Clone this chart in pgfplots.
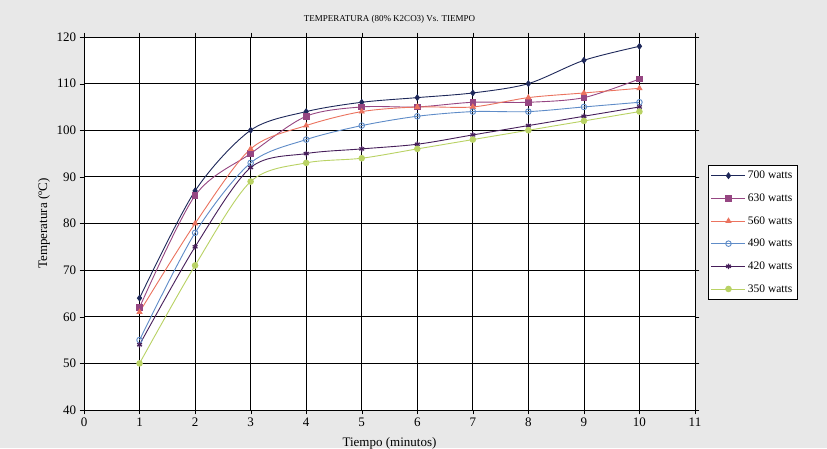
\documentclass[border=0pt]{standalone}
\usepackage{pgfplots}
\pgfplotsset{compat=1.18}
\usepackage{fontspec}
\setmainfont{Liberation Serif}

\definecolor{bgc}{RGB}{232,232,232}
\definecolor{c700}{RGB}{30,40,90}
\definecolor{c630}{RGB}{150,70,130}
\definecolor{c560}{RGB}{235,115,95}
\definecolor{c490}{RGB}{95,140,200}
\definecolor{c420}{RGB}{70,30,90}
\definecolor{c350}{RGB}{185,210,100}

\begin{document}
\begin{tikzpicture}[x=1pt,y=1pt]
\fill[bgc] (0,0) rectangle (827,448);
\path[use as bounding box] (0,0) rectangle (827,448);
\begin{axis}[
    at={(84pt,38pt)}, anchor=south west,
    scale only axis, width=611pt, height=373pt,
    xmin=0, xmax=11, ymin=40, ymax=120,
    xtick={0,...,11}, ytick={40,50,...,120},
    grid=major, major grid style={black, line width=0.8pt},
    axis line style={black, line width=0.8pt},
    axis background/.style={fill=white},
    tick style={black}, tick align=outside,
    /pgf/number format/assume math mode=true,
    ticklabel style={font=\fontsize{13}{14}\selectfont},
    title={\fontsize{9}{10}\selectfont TEMPERATURA (80\% K2CO3) Vs. TIEMPO},
    title style={yshift=4pt},
    xlabel={Tiempo (minutos)}, ylabel={Temperatura (ºC)},
    label style={font=\fontsize{13}{14}\selectfont},
    xlabel style={yshift=-4pt},
    legend style={at={(1.021,0.657)}, anchor=north west, draw=black,
      font=\fontsize{11.5}{12}\selectfont, row sep=9.5pt, fill=white,
      inner xsep=3pt, inner ysep=4pt},
    legend cell align=left,
    legend image code/.code={\draw[mark repeat=2,mark phase=2] plot coordinates {(0pt,0pt)(17pt,0pt)(34pt,0pt)};},
    every axis plot/.append style={smooth, line width=0.9pt, mark size=2.8pt},
]
\addplot[c700, mark=diamond*] coordinates {(1,64)(2,87)(3,100)(4,104)(5,106)(6,107)(7,108)(8,110)(9,115)(10,118)};
\addplot[c630, mark=square*] coordinates {(1,62)(2,86)(3,95)(4,103)(5,105)(6,105)(7,106)(8,106)(9,107)(10,111)};
\addplot[c560, mark=triangle*] coordinates {(1,61)(2,80)(3,96)(4,101)(5,104)(6,105)(7,105)(8,107)(9,108)(10,109)};
\addplot[c490, mark=o, mark options={fill=white}] coordinates {(1,55)(2,78)(3,93)(4,98)(5,101)(6,103)(7,104)(8,104)(9,105)(10,106)};
\addplot[c420, mark=asterisk, mark options={line width=1.2pt}] coordinates {(1,54)(2,75)(3,92)(4,95)(5,96)(6,97)(7,99)(8,101)(9,103)(10,105)};
\addplot[c350, mark=*] coordinates {(1,50)(2,71)(3,89)(4,93)(5,94)(6,96)(7,98)(8,100)(9,102)(10,104)};
\legend{700 watts, 630 watts, 560 watts, 490 watts, 420 watts, 350 watts}
\end{axis}
\end{tikzpicture}
\end{document}
